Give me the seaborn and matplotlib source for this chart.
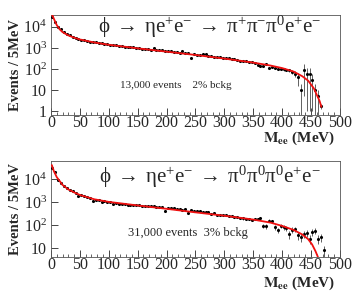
# plot.py
# Mee spectra for phi -> eta e+ e- with the two eta decay channels

import numpy as np
import pandas as pd
import seaborn as sns
import matplotlib.pyplot as plt
from matplotlib.ticker import FixedLocator, MultipleLocator, LogLocator, NullFormatter

# ---- data: counts per 5 MeV bin ----
counts_top = [30000, 16000, 10000, 7500, 5800, 4600, 3900, 3400, 3000, 2700,
              2450, 2350, 2150, 2000, 1900, 1800, 1700, 1650, 1550, 1450,
              1400, 1350, 1300, 1250, 1200, 1150, 1100, 1080, 1050, 1000,
              960, 930, 900, 860, 830, 950, 800, 780, 750, 720,
              700, 680, 650, 620, 600, 680, 560, 540, 330, 500,
              480, 460, 520, 500, 420, 400, 380, 360, 350, 340,
              320, 330, 290, 300, 270, 230, 240, 250, 220, 220,
              190, 150, 140, 145, 170, 115, 120, 110, 100, 100,
              95, 90, 85, 70, 60, 40, 10, 90, 55, 55,
              30, 10, 5, 1.7]
err_top = [250, 180, 140, 120, 100, 90, 80, 75, 70, 65,
           60, 60, 55, 55, 50, 50, 50, 48, 46, 44,
           42, 40, 40, 40, 38, 36, 35, 35, 34, 34,
           32, 32, 31, 30, 30, 32, 30, 29, 28, 28,
           28, 27, 26, 25, 25, 26, 24, 24, 20, 23,
           22, 22, 23, 22, 21, 20, 20, 19, 19, 19,
           18, 18, 17, 17, 16, 15, 15, 16, 15, 15,
           14, 13, 13, 13, 14, 12, 12, 12, 11, 11,
           12, 13, 14, 15, 18, 25, 9.5, 85, 54, 54,
           29, 9.5, 4.5, 0.4]
fit_x_top = [1.5, 5, 10, 15, 20, 30, 40, 50, 75, 100, 150, 200, 250, 300,
             350, 380, 400, 420, 435, 445, 455, 460, 465, 468]
fit_y_top = [40000, 24000, 12000, 7600, 5600, 3900, 3050, 2500, 1800, 1400,
             950, 660, 460, 310, 200, 145, 110, 75, 45, 28, 12, 6, 3, 1.6]

counts_bot = [30000, 20000, 9000, 6500, 5000, 4000, 3300, 3000, 2500, 1800,
              1900, 1800, 1700, 1500, 1100, 1150, 1200, 1000, 1100, 1000,
              950, 800, 900, 850, 800, 780, 700, 750, 720, 700,
              750, 680, 640, 660, 650, 660, 600, 580, 620, 400,
              550, 520, 560, 480, 500, 460, 470, 320, 430, 420,
              400, 390, 370, 380, 360, 300, 320, 280, 260, 270,
              260, 250, 240, 230, 220, 200, 190, 185, 180, 170,
              175, 180, 200, 90, 85, 150, 140, 80, 60, 90,
              80, 70, 40, 60, 65, 35, 30, 40, 45, 25,
              50, 55, 25, 30, 8]
err_bot = [300, 220, 140, 120, 100, 90, 80, 75, 70, 60,
           62, 60, 58, 55, 48, 48, 50, 45, 47, 45,
           44, 40, 42, 41, 40, 39, 37, 38, 37, 37,
           38, 36, 35, 36, 35, 36, 34, 34, 35, 28,
           33, 32, 33, 31, 31, 30, 30, 25, 29, 29,
           28, 28, 27, 27, 27, 25, 25, 24, 23, 23,
           23, 22, 22, 21, 21, 20, 20, 20, 20, 19,
           19, 20, 20, 20, 20, 22, 22, 18, 16, 20,
           18, 17, 15, 17, 17, 12, 12, 14, 14, 10,
           16, 17, 10, 12, 4]
fit_x_bot = [1.5, 5, 10, 20, 30, 40, 50, 75, 100, 150, 200, 250, 300, 350,
             380, 400, 420, 435, 445, 452, 458, 462, 466]
fit_y_bot = [40000, 22000, 12000, 5500, 3500, 2600, 2000, 1300, 1000, 700,
             500, 350, 250, 170, 125, 90, 60, 38, 24, 14, 7, 4, 2]

titles = [r"$\phi\; \rightarrow\; \eta e^{+}e^{-}\; \rightarrow\; \pi^{+}\pi^{-}\pi^{0}e^{+}e^{-}$",
          r"$\phi\; \rightarrow\; \eta e^{+}e^{-}\; \rightarrow\; \pi^{0}\pi^{0}\pi^{0}e^{+}e^{-}$"]
notes = ["13,000 events    2% bckg", "31,000 events  3% bckg"]


def draw_panel(ax, counts, err, fit_x, fit_y, title, title_y, note, note_xy, note_size,
               ylim, yticks, ylabels, xlabel_off):
    mee = np.arange(len(counts)) * 5 + 2.5
    df = pd.DataFrame({"mee": mee, "n": counts, "err": err})
    lo = np.minimum(df["err"], df["n"] * 0.999)
    ax.errorbar(df["mee"], df["n"], yerr=[lo, df["err"]], fmt="none",
                ecolor="#222222", elinewidth=0.5, capsize=0, zorder=2)
    sns.scatterplot(data=df, x="mee", y="n", ax=ax, color="black", s=5,
                    marker="o", linewidth=0, zorder=3, legend=False)
    fit = pd.DataFrame({"x": fit_x, "y": fit_y})
    sns.lineplot(data=fit, x="x", y="y", ax=ax, color="#f01010", lw=1.3, zorder=4)

    ax.set_yscale("log")
    ax.set_xlim(0, 500)
    ax.set_ylim(*ylim)
    ax.yaxis.set_major_locator(FixedLocator(yticks))
    ax.set_yticklabels(ylabels)
    ax.yaxis.set_minor_locator(LogLocator(base=10, subs=np.arange(2, 10)))
    ax.yaxis.set_minor_formatter(NullFormatter())
    ax.xaxis.set_major_locator(MultipleLocator(50))
    ax.xaxis.set_minor_locator(MultipleLocator(10))
    ax.tick_params(which="both", direction="in", top=False, right=False, labelsize=11.5)
    ax.tick_params(axis="x", pad=0)
    ax.tick_params(axis="y", pad=3)
    ax.tick_params(which="major", length=5, width=0.6)
    ax.tick_params(which="minor", length=2.5, width=0.5)
    for s in ax.spines.values():
        s.set_linewidth(0.6)
        s.set_color("#555555")
        s.set_visible(True)

    ax.set_xlabel("")
    ax.set_ylabel("Events / 5MeV", fontsize=10.5, fontweight="bold", labelpad=1)
    ax.annotate(r"$\mathbf{M_{ee}}$ (MeV)", xy=(0.985, 0), xycoords="axes fraction",
                xytext=(0, xlabel_off), textcoords="offset points",
                ha="right", va="center", fontsize=11, fontweight="bold")
    ax.text(0.55, title_y, title, transform=ax.transAxes, ha="center", va="center", fontsize=15)
    ax.text(note_xy[0], note_xy[1], note, transform=ax.transAxes, ha="left", va="center",
            fontsize=note_size)


def run_main():
    sns.set_theme(style="ticks")
    plt.rcParams["font.family"] = ["Liberation Serif", "DejaVu Serif"]
    plt.rcParams["mathtext.fontset"] = "stix"
    plt.rcParams["mathtext.default"] = "regular"

    fig = plt.figure(figsize=(3.54, 2.95), dpi=100)
    ax1 = fig.add_axes([0.144, 0.610, 0.816, 0.339])
    ax2 = fig.add_axes([0.144, 0.129, 0.816, 0.325])

    draw_panel(ax1, counts_top, err_top, fit_x_top, fit_y_top, titles[0], 0.88,
               notes[0], (0.24, 0.30), 8,
               (0.65, 3.6e4), [1, 10, 100, 1000, 10000],
               ["1", "10", "$10^2$", "$10^3$", "$10^4$"], -17)
    draw_panel(ax2, counts_bot, err_bot, fit_x_bot, fit_y_bot, titles[1], 0.83,
               notes[1], (0.266, 0.25), 9,
               (4, 6e4), [10, 100, 1000, 10000],
               ["10", "$10^2$", "$10^3$", "$10^4$"], -19)

    fig.savefig("out.png", dpi=100)


if __name__ == "__main__":
    run_main()
